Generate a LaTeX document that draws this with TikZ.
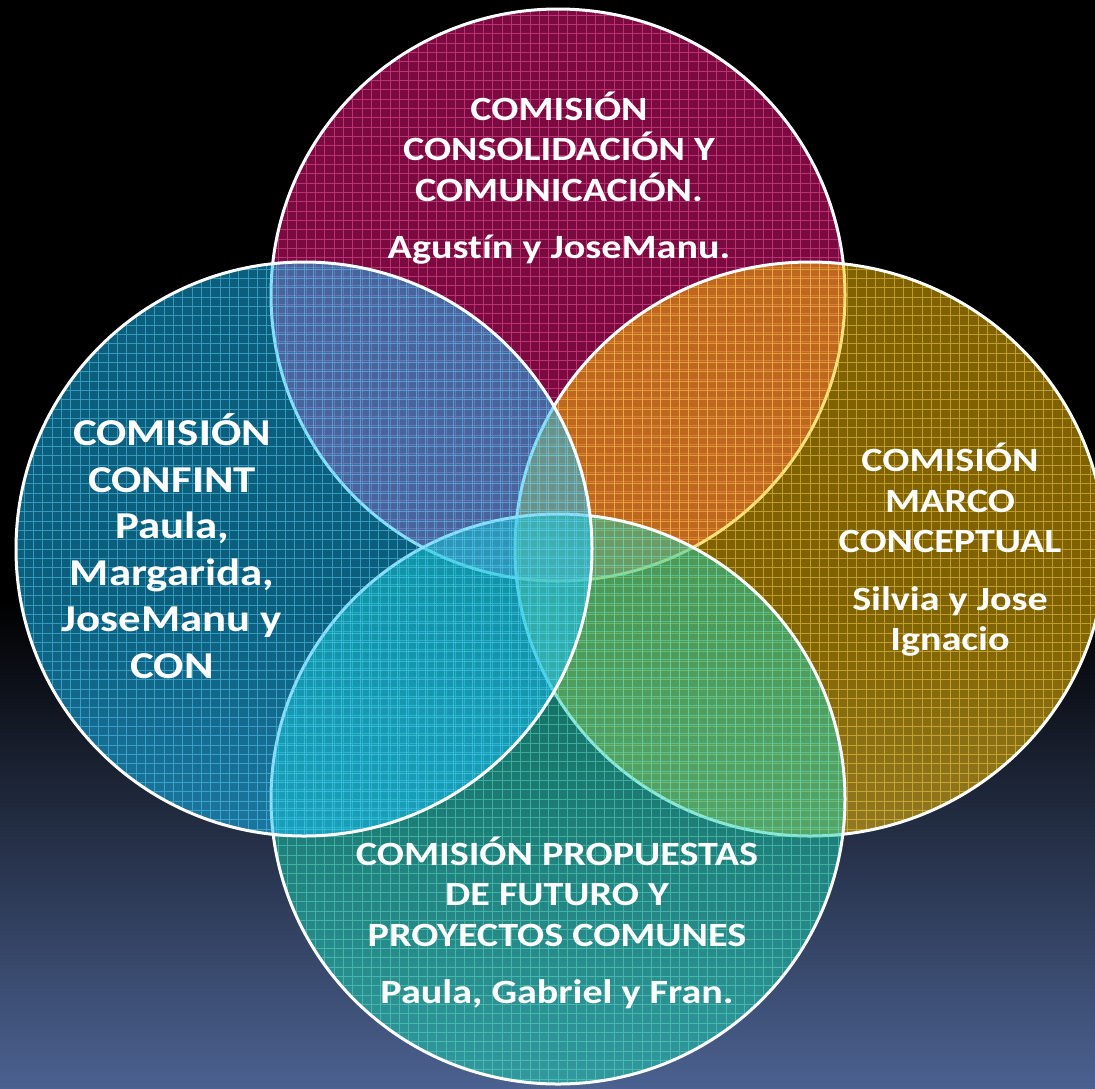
\documentclass[tikz,border=0pt]{standalone}
\usepackage{fontspec}
\setmainfont{Carlito}[FakeStretch=1.18, Ligatures=NoCommon]
\usetikzlibrary{shapes.geometric}
\definecolor{bgbot}{HTML}{4B6190}
\definecolor{magenta}{HTML}{F61480}
\definecolor{azul}{HTML}{16BEFA}
\definecolor{oro}{HTML}{FFC400}
\definecolor{verde}{HTML}{1BD1AF}
\tikzset{
  comision/.style 2 args={ellipse, inner sep=0pt, minimum width=#2,
    fill=#1, fill opacity=0.5, draw=white, line width=3pt,
    path picture={\draw[#1!70!white, line width=0.8pt, draw opacity=0.5, step=9.33pt]
      (path picture bounding box.south west) grid (path picture bounding box.north east);}},
  comtxt/.style={text=white, align=center, inner sep=0pt,
    font=\bfseries\fontsize{34}{40.5}\selectfont}
}
\begin{document}
\begin{tikzpicture}[x=1pt,y=-1pt]
\useasboundingbox (0,0) rectangle (1095,1088);
% fondo
\fill[black] (0,0) rectangle (1095,1088);
\shade[top color=black, bottom color=bgbot] (0,600) rectangle (1095,1088);
% circulos
\node[comision={magenta}{574pt}, minimum height=572pt] (comtop) at (558,295) {};
\node[comision={oro}{590pt}, minimum height=574pt] (comright) at (810,549) {};
\node[comision={verde}{574pt}, minimum height=570pt] (combottom) at (558,799) {};
\node[comision={azul}{576pt}, minimum height=574pt] (comleft) at (304,549) {};
% textos
\node[comtxt] (txttop) at (559,178) {COMISIÓN\\CONSOLIDACIÓN Y\\COMUNICACIÓN.\\[17pt]Agustín y JoseManu.};
\node[comtxt, font=\bfseries\fontsize{38}{46.5}\selectfont] (txtleft) at (172,546) {COMISIÓN\\CONFINT\\Paula,\\Margarida,\\JoseManu y\\CON};
\node[comtxt] (txtright) at (950,550) {COMISIÓN\\MARCO\\CONCEPTUAL\\[17pt]Silvia y Jose\\Ignacio};
\node[comtxt] (txtbottom) at (557,923) {COMISIÓN PROPUESTAS\\DE FUTURO Y\\PROYECTOS COMUNES\\[17pt]Paula, Gabriel y Fran.};
\end{tikzpicture}
\end{document}
